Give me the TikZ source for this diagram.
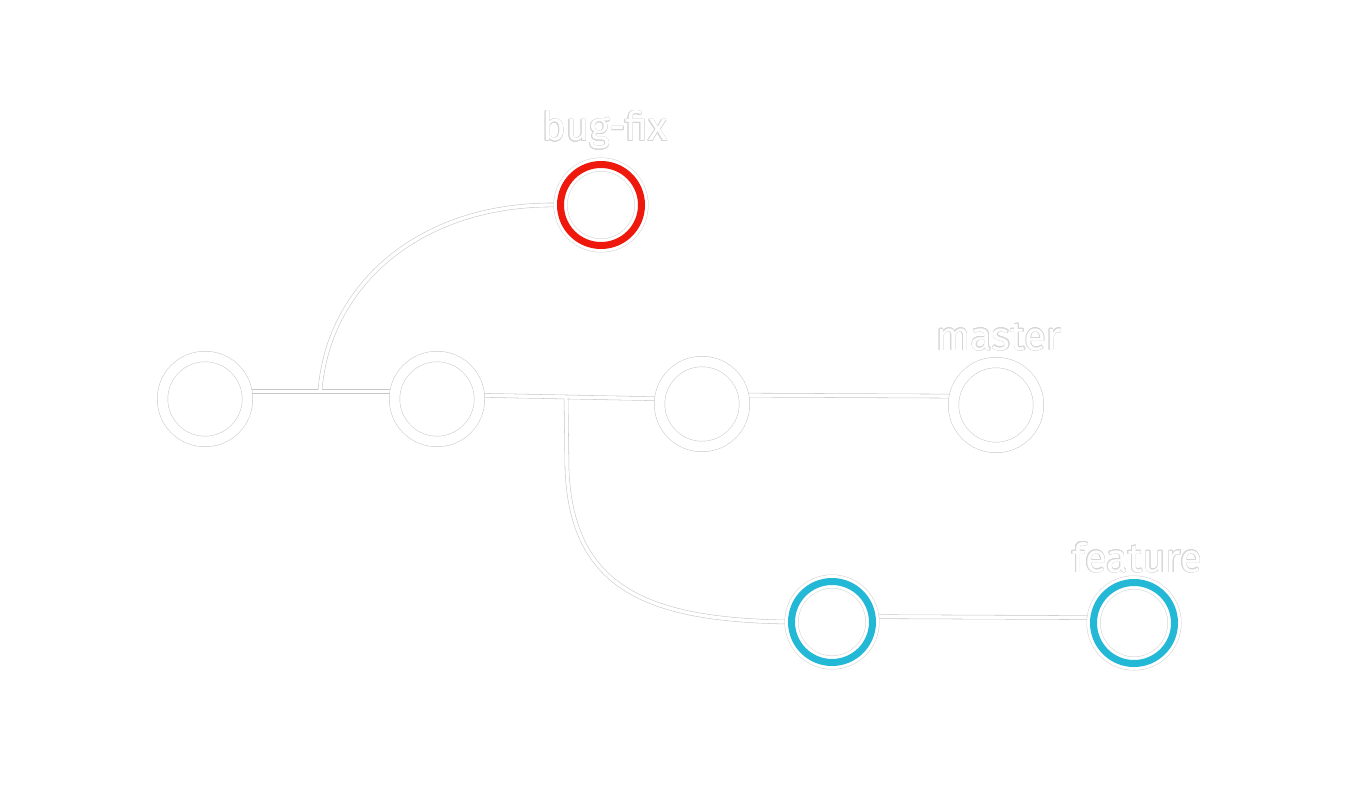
\documentclass[tikz,border=0pt]{standalone}
\usepackage{fontspec}
\setmainfont{Fira Sans}
\usepackage[copies]{contour}
\contourlength{0.5pt}
\usetikzlibrary{backgrounds}
\definecolor{fixred}{RGB}{238,24,12}
\definecolor{featblue}{RGB}{34,184,214}
\tikzset{
    commit/.style={circle, minimum size=85pt, inner sep=0pt, draw=black!22,
        line width=0.5pt, double=white, double distance=10pt},
    tipcommit/.style={circle, minimum size=81pt, inner sep=0pt, draw=#1, line width=7pt,
        preaction={draw=black!18, line width=0.5pt, double=white, double distance=13pt}},
    halo/.style={draw=black!22, line width=4.5pt},
    core/.style={draw=white, line width=3.4pt},
    tag/.style={text=white, font=\fontsize{40}{40}\selectfont, anchor=base},
}
\begin{document}
\begin{tikzpicture}[x=1pt, y=-1pt]
    \useasboundingbox (0,0) rectangle (1349,797);

    \node[commit] (c1) at (205,399) {};
    \node[commit] (c2) at (437,399) {};
    \node[commit] (c3) at (702,404) {};
    \node[commit] (master) at (996,405) {};
    \node[tipcommit=fixred] (bugfix) at (601,205) {};
    \node[tipcommit=featblue] (feat1) at (832,622) {};
    \node[tipcommit=featblue] (feat2) at (1134,623) {};

    \node[tag] (bugfixlbl) at (605,141) {\contour{black!16}{bug-fix}};
    \node[tag] (masterlbl) at (999,350) {\contour{black!16}{master}};
    \node[tag] (featlbl) at (1137,572) {\contour{black!16}{feature}};

    % branch points on the main line
    \coordinate (b1) at (320,391);
    \coordinate (b2) at (566,397);

    \begin{pgfonlayer}{background}
    \foreach \s in {halo,core} {
        \draw[\s] (c1.10) -- (c2.170);
        \draw[\s] (c2.5) -- (c3.173);
        \draw[\s] (c3.12) -- (master.168);
        \draw[\s] (feat1.7) -- (feat2.173);
        \draw[\s] (b1) .. controls (328,285) and (420,203) .. (bugfix.west);
        \draw[\s] (b2) -- (567,470) .. controls (572,590) and (650,620) .. (feat1.west);
    }
    \end{pgfonlayer}
\end{tikzpicture}
\end{document}
